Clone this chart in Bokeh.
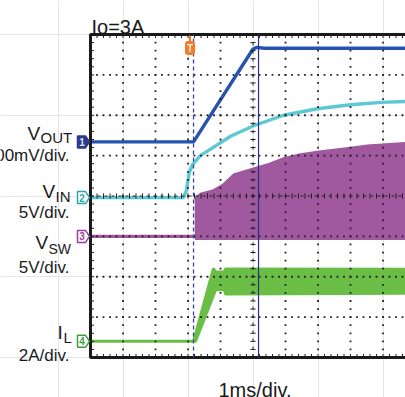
import numpy as np
from bokeh.plotting import figure
from bokeh.models import Range1d
from bokeh.core.properties import value
from bokeh.embed import file_html
from bokeh.resources import INLINE

# ---------------- data ----------------
# time in ms (1 ms/div, screen centre = 0 ms)
vout_t = [-5.0, -1.83, 0.0, 0.12, 0.35, 4.7]
vout_v = [0.0, 0.0, 1.15, 1.17, 1.16, 1.16]            # V

vin_t = [-5.0, -2.14, -2.05, -1.96, -1.86, -1.62, -1.15, -0.69, 0.02, 0.94, 1.98, 3.0, 3.95, 4.7]
vin_v = [0.0, 0.0, 0.87, 3.1, 4.1, 5.2, 6.4, 7.6, 8.9, 10.2, 11.0, 11.5, 11.8, 11.9]   # V

vsw_idle_t = [-5.0, -1.77]
vsw_idle_v = [0.0, 0.0]
vsw_t = [-1.77, -1.62, -1.25, -0.94, -0.60, -0.02, 0.48, 0.94, 1.46, 1.98, 2.54, 3.0, 3.52, 3.95, 4.7]
vsw_peak = [4.8, 5.3, 5.7, 6.4, 7.7, 8.4, 9.0, 9.7, 10.2, 10.5, 10.8, 11.0, 11.3, 11.4, 11.6]  # V
vsw_floor = -0.35

il_hi_t = [-5.0, -1.83, -1.215, -1.17, -0.87, -0.85, 4.7]
il_hi = [0.0, 0.0, 3.62, 3.45, 3.44, 3.59, 3.57]        # A
il_lo_t = [-5.0, -1.77, -1.154, -0.87, -0.85, 4.7]
il_lo = [0.0, 0.0, 2.55, 2.55, 2.35, 2.38]              # A

trigger_t = -1.83
cursor_t = 0.17

# channel: number, volts (amps) per div, offset in div, colour
ch = {
    "1": dict(scale=0.5, offset=1.34, color="#2752ad", mark="#2d3a8c"),
    "2": dict(scale=5.0, offset=-0.04, color="#5cc8d4", mark="#2aa7a8"),
    "3": dict(scale=5.0, offset=-1.0, color="#a0589f", mark="#9a3e9f"),
    "4": dict(scale=2.0, offset=-3.6, color="#6abe45", mark="#3c9e3e"),
}

# ---------------- screen geometry ----------------
PX_MS = 32.5      # px per horizontal division
PX_DIV = 40.375   # px per vertical division
W, H = 405, 397


def tx(px):
    return -5 + (px - 90) / PX_MS


def vy(py):
    return 4 - (py - 34) / PX_DIV


def to_div(c, vals):
    return [ch[c]["offset"] + v / ch[c]["scale"] for v in vals]


p = figure(width=W, height=H, x_range=Range1d(tx(0), tx(W)), y_range=Range1d(vy(H), vy(0)),
           x_axis_location=None, y_axis_location=None, toolbar_location=None,
           output_backend="svg", min_border=0, outline_line_color=None)
p.background_fill_color = "white"
p.border_fill_color = "white"

# ---------------- traces ----------------
# switch node: idle line, then the filled switching envelope
p.line(vsw_idle_t, to_div("3", vsw_idle_v), line_color=ch["3"]["color"], line_width=3.2)
sw_x = vsw_t + vsw_t[::-1]
sw_y = to_div("3", vsw_peak) + to_div("3", [vsw_floor] * len(vsw_t))
p.patch(sw_x, sw_y, fill_color=ch["3"]["color"], line_color=ch["3"]["color"], line_width=1.5)

# inductor current: ripple band
il_x = il_hi_t + il_lo_t[::-1]
il_y = to_div("4", il_hi) + to_div("4", il_lo[::-1])
p.patch(il_x, il_y, fill_color=ch["4"]["color"], line_color=ch["4"]["color"], line_width=3)

p.line(vin_t, to_div("2", vin_v), line_color=ch["2"]["color"], line_width=3.4)
p.line(vout_t, to_div("1", vout_v), line_color=ch["1"]["color"], line_width=3.4)

# ---------------- graticule ----------------
dot_x, dot_y = [], []
steps_v = np.round(np.arange(-4, 4.001, 0.2), 3)
steps_t = np.round(np.arange(-5, tx(W), 0.2), 3)
for k in [-4, -3, -2, -1, 1, 2, 3, 4]:
    dot_x += [k] * len(steps_v)
    dot_y += list(steps_v)
for k in [-3, -2, -1, 1, 2, 3]:
    dot_x += list(steps_t)
    dot_y += [k] * len(steps_t)
p.scatter(dot_x, dot_y, marker="square", size=1.8, color="#222222", line_width=0)

# centre crosshair with minor ticks
p.line([-5, tx(W)], [0, 0], line_color="#222222", line_width=1, line_dash="3 4")
p.line([0, 0], [-4, 4], line_color="#222222", line_width=1, line_dash="3 5")
th = 2.6 / PX_DIV
tw = 2.6 / PX_MS
p.segment(x0=list(steps_t), y0=[-th] * len(steps_t), x1=list(steps_t), y1=[th] * len(steps_t),
          line_color="#222222", line_width=1)
p.segment(x0=[-tw] * len(steps_v), y0=list(steps_v), x1=[tw] * len(steps_v), y1=list(steps_v),
          line_color="#222222", line_width=1)

# frame border with inner minor ticks
bt = 3.5 / PX_DIV
bl = 3.5 / PX_MS
p.segment(x0=list(steps_t), y0=[4] * len(steps_t), x1=list(steps_t), y1=[4 - bt] * len(steps_t),
          line_color="#222222", line_width=1)
p.segment(x0=list(steps_t), y0=[-4] * len(steps_t), x1=list(steps_t), y1=[-4 + bt] * len(steps_t),
          line_color="#222222", line_width=1)
p.segment(x0=[-5] * len(steps_v), y0=list(steps_v), x1=[-5 + bl] * len(steps_v), y1=list(steps_v),
          line_color="#222222", line_width=1)
p.line([tx(W) + 1, -5, -5, tx(W) + 1], [4, 4, -4, -4], line_color="#1a1a1a", line_width=3)

# trigger position and cursor
p.line([trigger_t, trigger_t], [-4, 4], line_color="#34449a", line_width=1.3, line_dash="4 3")
p.line([cursor_t, cursor_t], [-4, 4], line_color="#2b2e86", line_width=1.2)

# trigger flag
fx0, fx1 = tx(185), tx(194)
fy0, fy1 = vy(41), vy(54)
p.quad(left=[fx0], right=[fx1], top=[fy0], bottom=[fy1], fill_color="#f07b2c",
       line_color="#f07b2c", border_radius=2)
p.segment(x0=[tx(189.5)], y0=[vy(35)], x1=[tx(189.5)], y1=[vy(41)], line_color="#f07b2c", line_width=2)
p.text([tx(189.5)], [vy(47.5)], text=["T"], text_font=value("Liberation Sans"), text_font_size="10px",
       text_font_style="bold", text_color="#fde6d6", text_align="center", text_baseline="middle")

# channel ground markers
for c, cfg in ch.items():
    cy = cfg["offset"]
    hh = 6 / PX_DIV
    xs = [tx(77), tx(85), tx(89), tx(85), tx(77)]
    ys = [cy + hh, cy + hh, cy, cy - hh, cy - hh]
    filled = c == "1"
    p.patch(xs, ys, fill_color=cfg["mark"] if filled else "white", line_color=cfg["mark"], line_width=1.5)
    p.text([tx(81.5)], [cy], text=[c], text_font=value("Liberation Sans"), text_font_size="10px",
           text_font_style="bold", text_color="#dfe4f5" if filled else cfg["mark"],
           text_align="center", text_baseline="middle")

# ---------------- labels ----------------
FONT = value("Liberation Sans")


def label(px, py, s, size, align="left"):
    p.text([tx(px)], [vy(py)], text=[s], text_font=FONT, text_font_size=size,
           text_color="#1a1a1a", text_align=align, text_baseline="alphabetic")


label(91, 26, "Io=3A", "20px")
label(27, 133, "V", "19px")
label(40, 137, "OUT", "15px")
label(69, 155, "500mV/div.", "17px", "right")
label(42, 191, "V", "19px")
label(55, 196, "IN", "15px")
label(69, 212, "5V/div.", "17px", "right")
label(35, 242, "V", "19px")
label(48, 248, "SW", "14px")
label(69, 267, "5V/div.", "17px", "right")
label(57, 332, "I", "19px")
label(63, 337, "L", "15px")
label(69, 355, "2A/div.", "17px", "right")
label(218, 389, "1ms/div.", "20px")

open("out.html", "w").write(file_html(p, INLINE))
